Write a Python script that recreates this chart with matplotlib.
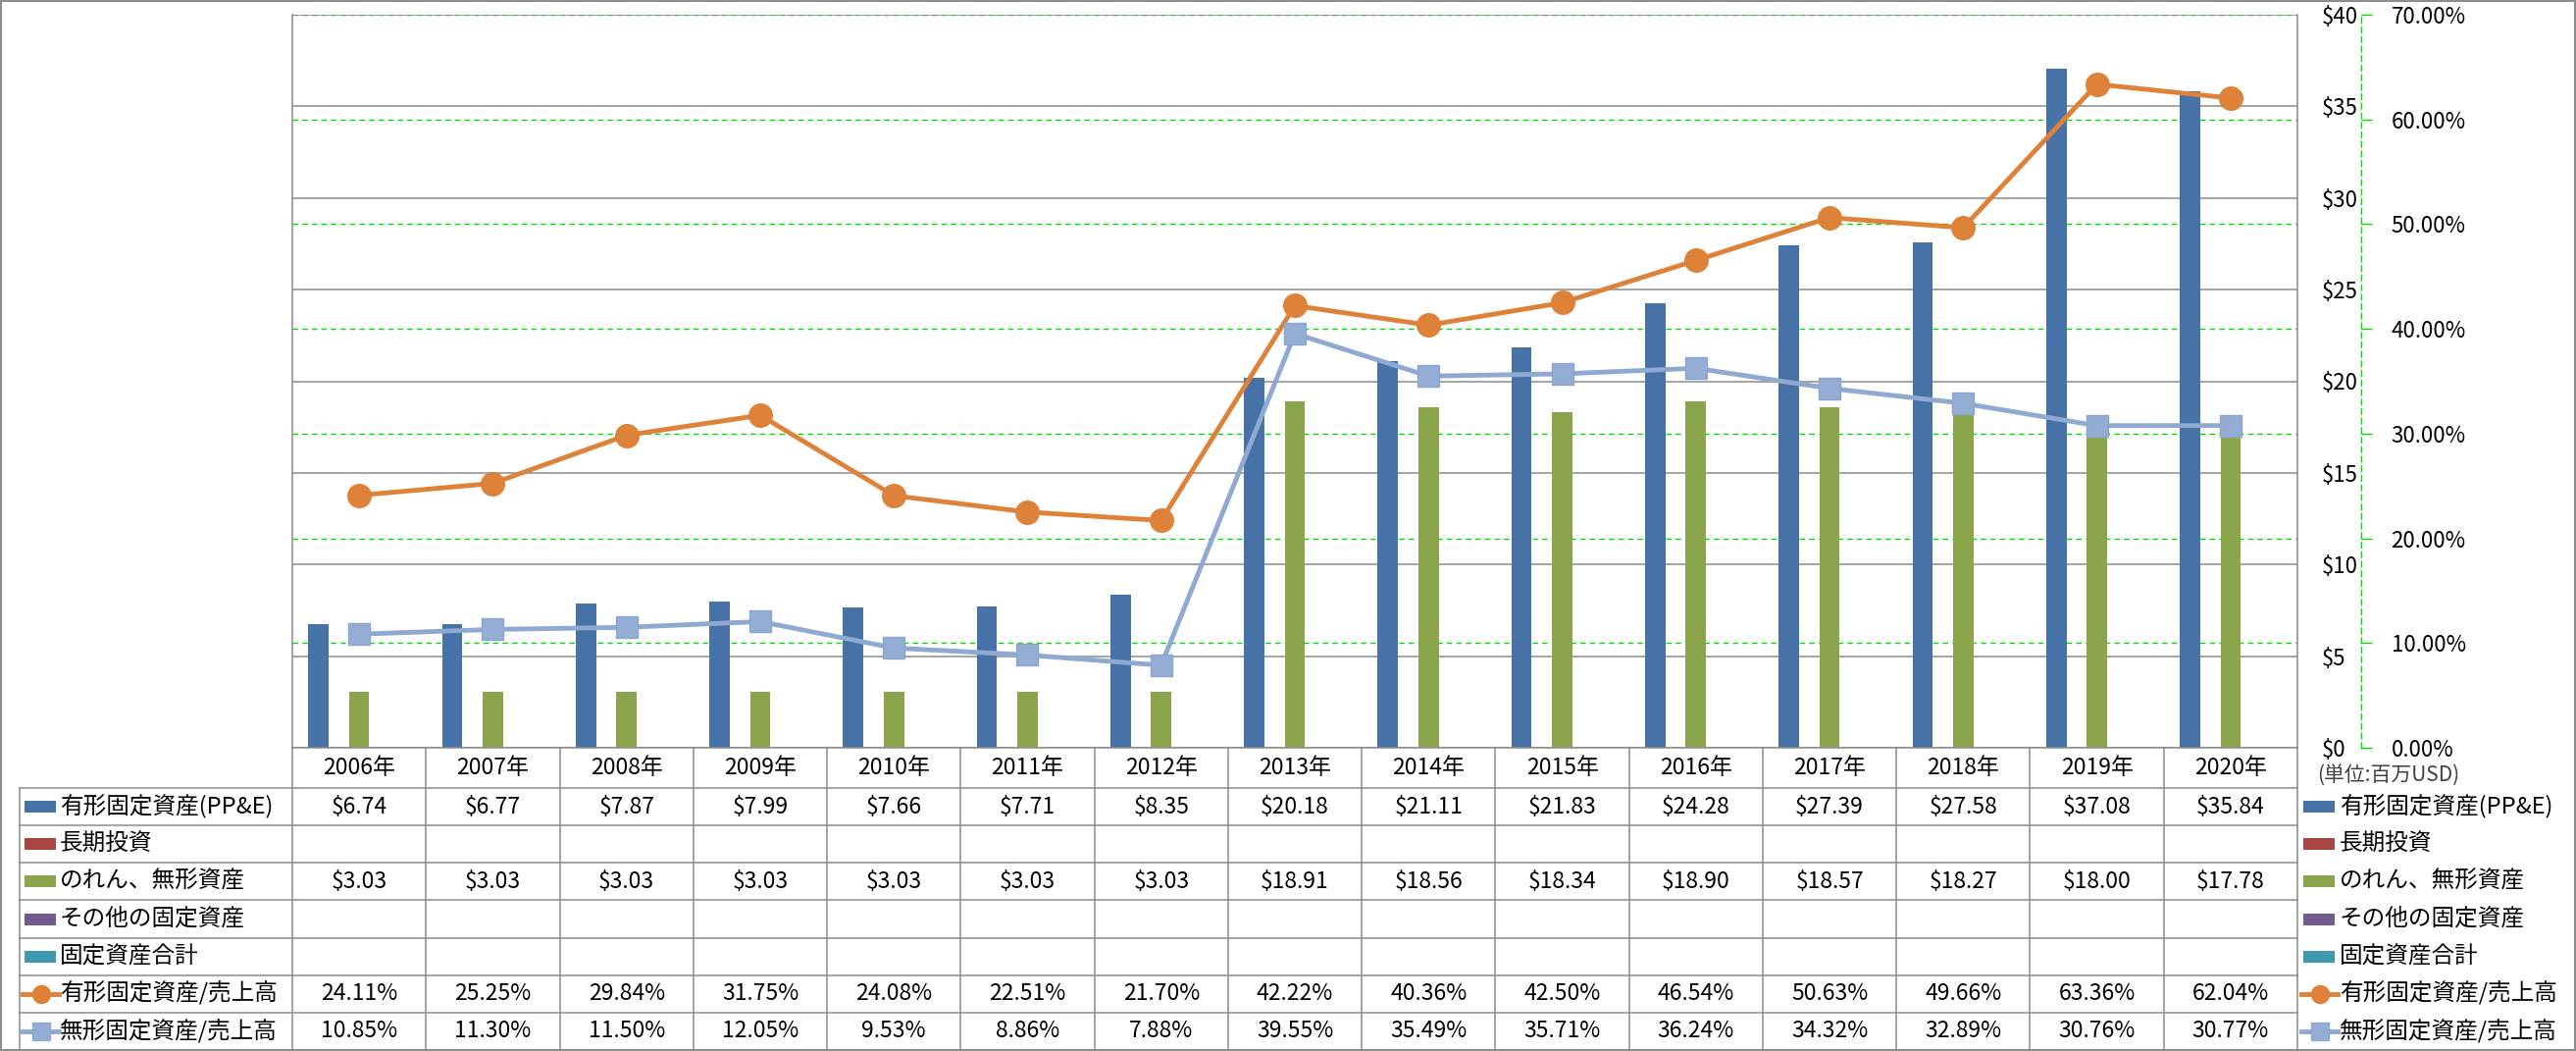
import matplotlib
matplotlib.use("Agg")
import matplotlib.pyplot as plt
from matplotlib.lines import Line2D
from matplotlib.patches import Rectangle
from matplotlib.ticker import FuncFormatter
import numpy as np

plt.rcParams['font.family'] = ['Noto Sans CJK JP', 'DejaVu Sans']

# データ
years = ['2006年', '2007年', '2008年', '2009年', '2010年', '2011年', '2012年', '2013年',
         '2014年', '2015年', '2016年', '2017年', '2018年', '2019年', '2020年']
ppe = [6.74, 6.77, 7.87, 7.99, 7.66, 7.71, 8.35, 20.18, 21.11, 21.83, 24.28, 27.39, 27.58, 37.08, 35.84]
lt_invest = [None] * 15
goodwill = [3.03, 3.03, 3.03, 3.03, 3.03, 3.03, 3.03, 18.91, 18.56, 18.34, 18.90, 18.57, 18.27, 18.00, 17.78]
other_fixed = [None] * 15
total_fixed = [None] * 15
ppe_ratio = [24.11, 25.25, 29.84, 31.75, 24.08, 22.51, 21.70, 42.22, 40.36, 42.50, 46.54, 50.63, 49.66, 63.36, 62.04]
intang_ratio = [10.85, 11.30, 11.50, 12.05, 9.53, 8.86, 7.88, 39.55, 35.49, 35.71, 36.24, 34.32, 32.89, 30.76, 30.77]

c_blue = '#4672A7'
c_red = '#A94543'
c_green = '#8AA54B'
c_purple = '#715A8E'
c_teal = '#3F98AE'
c_orange = '#DD8238'
c_lblue = '#8FA9D1'
c_grid = '#8C8C8C'
c_lime = '#00E000'

W, H = 2626, 1071
fig = plt.figure(figsize=(W / 100, H / 100), dpi=100)
fig.patch.set_facecolor('white')

# プロット領域 (ピクセル)
L, R, T, B = 298, 2342, 15, 762
ax = fig.add_axes([L / W, 1 - B / H, (R - L) / W, (B - T) / H])
axg = ax.twinx()
ax2 = ax.twinx()
axg.set_zorder(0)
ax.set_zorder(1)
ax2.set_zorder(2)
ax.patch.set_visible(False)
ax2.patch.set_visible(False)

x = np.arange(len(years))
slot = 0.152
bar_series = [(ppe, c_blue), (lt_invest, c_red), (goodwill, c_green),
              (other_fixed, c_purple), (total_fixed, c_teal)]
for i, (vals, col) in enumerate(bar_series):
    if all(v is None for v in vals):
        continue
    ax.bar(x + (i - 2) * slot, vals, width=slot, color=col, zorder=2)

ax.set_xlim(-0.5, len(years) - 0.5)
ax.set_ylim(0, 40)
ax.set_yticks(np.arange(0, 41, 5))
ax.yaxis.set_major_formatter(FuncFormatter(lambda v, p: f'${v:.0f}'))
ax.yaxis.tick_right()
ax.tick_params(axis='y', length=0, pad=18, labelsize=16, right=True, labelright=True,
               left=False, labelleft=False)
ax.set_xticks([])
ax.grid(axis='y', color=c_grid, lw=1.1)
ax.set_axisbelow(True)
ax.spines['top'].set_visible(False)
for s in ['left', 'right', 'bottom']:
    ax.spines[s].set_color(c_grid)
    ax.spines[s].set_linewidth(1.1)

# 緑の点線グリッド (%)
axg.set_ylim(0, 70)
axg.set_yticks(np.arange(0, 71, 10))
axg.grid(axis='y', color=c_lime, ls=(0, (4, 3)), lw=1)
axg.tick_params(length=0, labelright=False, labelleft=False)
for s in axg.spines.values():
    s.set_visible(False)

# 折れ線 (%)
ax2.plot(x, ppe_ratio, color=c_orange, lw=3.5, marker='o', ms=17, zorder=3)
ax2.plot(x, intang_ratio, color=c_lblue, lw=3.5, marker='s', ms=16,
         mfc='#93ADD5', mec='#8AA5CE', zorder=3)
ax2.set_ylim(0, 70)
ax2.set_yticks(np.arange(0, 71, 10))
ax2.yaxis.set_major_formatter(FuncFormatter(lambda v, p: f'{v:.2f}%'))
ax2.tick_params(axis='y', length=8, width=1, color=c_lime, labelcolor='black',
                pad=14, labelsize=16, direction='out')
for s in ['left', 'top', 'bottom']:
    ax2.spines[s].set_visible(False)
ax2.spines['right'].set_position(('axes', (2407 - L) / (R - L)))
ax2.spines['right'].set_color(c_lime)
ax2.spines['right'].set_linestyle((0, (4, 3)))
ax2.spines['right'].set_linewidth(1)

# データテーブル
tab = fig.add_axes([0, 0, 1, 1])
tab.set_xlim(0, W)
tab.set_ylim(H, 0)
tab.axis('off')
tab.set_zorder(3)
tab.patch.set_visible(False)

cw = (R - L) / len(years)
row_top = 803
row_bot = 1070
rows = [
    ('有形固定資産(PP&E)', 'bar', c_blue, ppe, '${:.2f}'),
    ('長期投資', 'bar', c_red, lt_invest, '${:.2f}'),
    ('のれん、無形資産', 'bar', c_green, goodwill, '${:.2f}'),
    ('その他の固定資産', 'bar', c_purple, other_fixed, '${:.2f}'),
    ('固定資産合計', 'bar', c_teal, total_fixed, '${:.2f}'),
    ('有形固定資産/売上高', 'o', c_orange, ppe_ratio, '{:.2f}%'),
    ('無形固定資産/売上高', 's', c_lblue, intang_ratio, '{:.2f}%'),
]
rh = (row_bot - row_top) / len(rows)

for k, yr in enumerate(years):
    tab.text(L + cw * (k + 0.5), (B + row_top) / 2, yr, ha='center', va='center', fontsize=16.5)


def swatch(x0, yc, kind, col):
    if kind == 'bar':
        tab.add_patch(Rectangle((x0 + 2, yc - 6), 32, 12, color=col, lw=0))
    else:
        mfc = col if kind == 'o' else '#93ADD5'
        tab.add_line(Line2D([x0, x0 + 37], [yc, yc], color=col, lw=3.5))
        tab.add_line(Line2D([x0 + 18.5], [yc], marker=kind, ms=13, color=col, mfc=mfc, mec=col))


for r, (name, kind, col, vals, fmt) in enumerate(rows):
    yc = row_top + rh * (r + 0.5)
    swatch(23, yc, kind, col)
    tab.text(61, yc, name, ha='left', va='center', fontsize=17)
    swatch(2346, yc, kind, col)
    tab.text(2385, yc, name, ha='left', va='center', fontsize=17)
    for k, v in enumerate(vals):
        if v is None:
            continue
        tab.text(L + cw * (k + 0.5), yc, fmt.format(v), ha='center', va='center', fontsize=16.5)

# 罫線
for r in range(len(rows)):
    yy = row_top + rh * r
    tab.add_line(Line2D([20, R], [yy, yy], color=c_grid, lw=1.1))
tab.add_line(Line2D([20, R], [row_bot, row_bot], color=c_grid, lw=1.1))
tab.add_line(Line2D([20, 20], [row_top, row_bot], color=c_grid, lw=1.1))
for k in range(len(years) + 1):
    xx = L + cw * k
    tab.add_line(Line2D([xx, xx], [B, row_bot], color=c_grid, lw=1.1))

tab.text(2362, 790, '(単位:百万USD)', ha='left', va='center', fontsize=15, color='#404040')

# 外枠
tab.add_patch(Rectangle((1, 1), W - 2, H - 2, fill=False, ec=c_grid, lw=1.5))

fig.savefig('out.png', dpi=100, facecolor='white')
